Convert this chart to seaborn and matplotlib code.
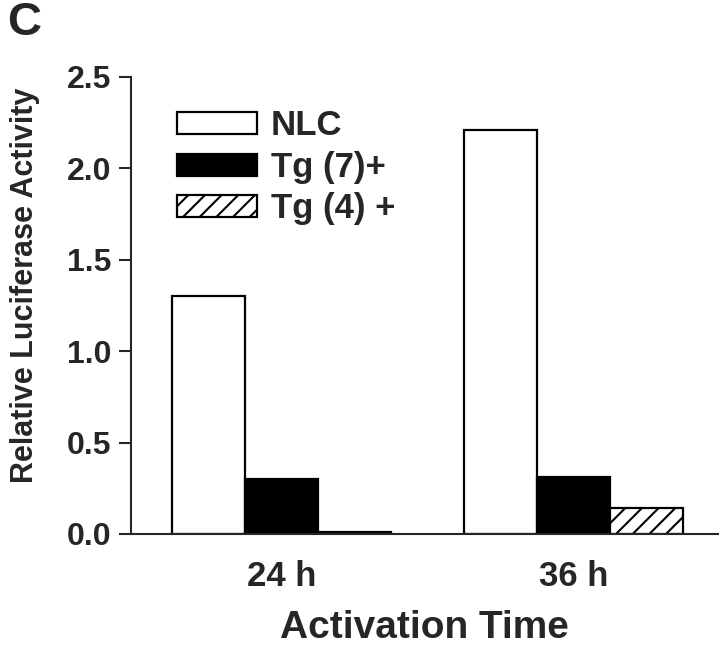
import matplotlib
matplotlib.use("Agg")
import matplotlib.pyplot as plt
import seaborn as sns
import pandas as pd

times = ["24 h", "36 h"]
groups = ["NLC", "Tg (7)+", "Tg (4) +"]
nlc = [1.30, 2.21]
tg7 = [0.30, 0.31]
tg4 = [0.01, 0.14]
yticks = [0.0, 0.5, 1.0, 1.5, 2.0, 2.5]

rows = []
for g, vals in zip(groups, [nlc, tg7, tg4]):
    for t, v in zip(times, vals):
        rows.append({"time": t, "group": g, "value": v})
df = pd.DataFrame(rows)

sns.set_style("ticks")
plt.rcParams["font.family"] = ["Liberation Sans", "DejaVu Sans"]
plt.rcParams["font.weight"] = "bold"
plt.rcParams["hatch.linewidth"] = 1.5

fig = plt.figure(figsize=(7.2, 6.47), dpi=100)
ax = fig.add_axes([0.182, 0.1747, 0.815, 0.7064])

sns.barplot(data=df, x="time", y="value", hue="group", order=times,
            hue_order=groups, palette=["white", "black", "white"],
            edgecolor="black", linewidth=1.6, width=0.75, ax=ax,
            saturation=1, errorbar=None)

# hatch the third group
for bar in ax.containers[2]:
    bar.set_hatch("//")

ax.set_ylim(0, 2.5)
ax.set_xlim(-0.515, 1.495)
ax.set_yticks(yticks)
ax.set_yticklabels([f"{v:.1f}" for v in yticks], fontsize=23, fontweight="bold")
ax.tick_params(axis="y", length=9, width=1.5, pad=5)
ax.tick_params(axis="x", length=0, pad=19, labelsize=25)
for lab in ax.get_xticklabels():
    lab.set_fontweight("bold")

for s in ["top", "right"]:
    ax.spines[s].set_visible(False)
for s in ["left", "bottom"]:
    ax.spines[s].set_linewidth(1.5)

ax.set_xlabel("Activation Time", fontsize=28, fontweight="bold", labelpad=12)
ax.set_ylabel("Relative Luciferase Activity", fontsize=22, fontweight="bold")
ax.yaxis.set_label_coords(-0.155, 0.543)

handles, labels = ax.get_legend_handles_labels()
leg = ax.legend(handles, labels, loc="upper left", bbox_to_anchor=(0.055, 0.96),
                frameon=False, fontsize=25, handlelength=2.3, handleheight=0.6,
                labelspacing=0.25, handletextpad=0.4, borderaxespad=0)
for t in leg.get_texts():
    t.set_fontweight("bold")
if len(leg.legend_handles) >= 3:
    leg.legend_handles[2].set_hatch("//")

fig.text(0.01, 0.998, "C", fontsize=34, fontweight="bold", va="top", ha="left")

fig.savefig("out.png", dpi=100)
